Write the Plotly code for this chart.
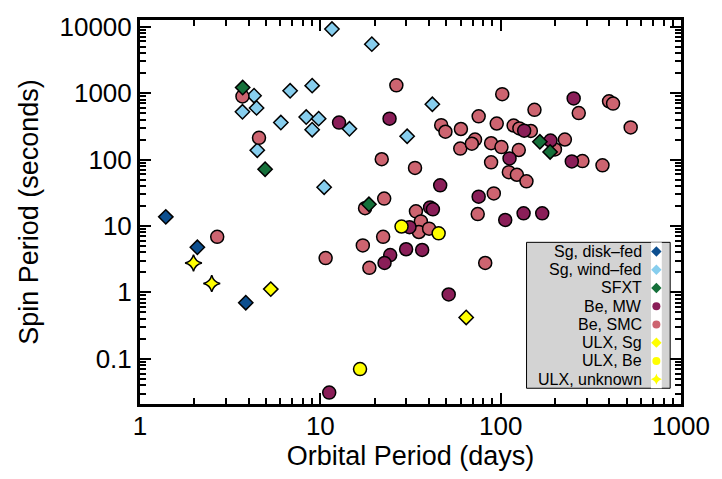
import plotly.graph_objects as go

# Orbital period (days) and spin period (seconds) for each class of X-ray pulsar
sg_disk_porb = [1.39, 2.08, 3.86]
sg_disk_pspin = [13.7, 4.77, 0.70]

sg_wind_porb = [11.6, 19.3, 4.29, 3.70, 4.43, 6.80, 9.01, 6.04, 8.35, 9.79, 9.01, 14.5, 4.47, 10.5, 30.3, 41.8]
sg_wind_pspin = [9190, 5450, 912, 523, 598, 1081, 1294, 360, 436, 412, 281, 290, 138, 38.3, 224, 679]

sfxt_porb = [3.71, 4.94, 18.6, 165, 188]
sfxt_pspin = [1210, 71.4, 21.2, 185, 130]

be_mw_porb = [11.2, 12.7, 24.2, 46.2, 75.5, 106, 112, 40.6, 42.1, 29.9, 36.7, 24.4, 22.7, 51.5,
              134, 170, 135, 189, 254, 248, 31.2]
be_mw_pspin = [0.031, 360, 412, 40.9, 27.6, 12.3, 104, 19.0, 17.8, 4.46, 4.35, 3.64, 2.77, 0.93,
               15.5, 15.5, 272, 193, 832, 93.7, 9.6]

be_smc_porb = [2.68, 10.7, 17.2, 18.7, 22.3, 17.7, 22.6, 21.9, 4.57, 3.70, 26.4, 33.5, 33.9, 36.1,
               35.2, 40.1, 74.6, 82.1, 91.6, 88.5, 59.7, 111, 123, 139, 102, 399, 420, 271, 526,
               154, 75.5, 95.1, 118, 127, 147, 227, 200, 284, 367, 46.8, 49.4, 60.2, 72.1, 69.2,
               88.5, 101, 126]
be_smc_pspin = [6.86, 3.28, 5.1, 2.34, 6.86, 18.5, 25.8, 101, 212, 891, 1309, 74.7, 16.6, 11.7,
                8.1, 9.1, 15.1, 2.77, 30.9, 90.6, 146, 64.5, 58.9, 46.9, 964, 752, 695, 500, 304,
                560, 447, 348, 325, 294, 269, 200, 142, 94.7, 81.8, 329, 262, 288, 200, 173,
                176, 154, 139]

ulx_sg_porb = [5.31, 64.4]
ulx_sg_pspin = [1.12, 0.42]

ulx_be_porb = [16.6, 28.2, 45.3]
ulx_be_pspin = [0.070, 9.8, 7.75]

ulx_unk_porb = [1.98, 2.50]
ulx_unk_pspin = [2.77, 1.36]

x_tickvals = [1, 10, 100, 1000]
x_ticktext = ["1", "10", "100", "1000"]
y_tickvals = [0.1, 1, 10, 100, 1000, 10000]
y_ticktext = ["0.1", "1", "10", "100", "1000", "10000"]

legend_labels = ["Sg, disk\u2013fed", "Sg, wind\u2013fed", "SFXT", "Be, MW", "Be, SMC",
                 "ULX, Sg", "ULX, Be", "ULX, unknown"]
legend_symbols = ["diamond", "diamond", "diamond", "circle", "circle",
                  "diamond", "circle", "star-diamond"]
legend_colors = ["#0d4f8f", "#87ceee", "#15703a", "#8a1e58", "#cd6470",
                 "#ffff00", "#ffff00", "#ffff00"]

FONT = "Liberation Sans, Arial, Helvetica, sans-serif"

series = [
    (sg_wind_porb, sg_wind_pspin, 1, 11),
    (be_smc_porb, be_smc_pspin, 4, 13),
    (be_mw_porb, be_mw_pspin, 3, 13),
    (sfxt_porb, sfxt_pspin, 2, 11),
    (sg_disk_porb, sg_disk_pspin, 0, 11),
    (ulx_sg_porb, ulx_sg_pspin, 5, 11),
    (ulx_be_porb, ulx_be_pspin, 6, 13),
    (ulx_unk_porb, ulx_unk_pspin, 7, 12),
]

fig = go.Figure()
for xs, ys, k, sz in series:
    fig.add_trace(go.Scatter(
        x=xs, y=ys, mode="markers", name=legend_labels[k], showlegend=False,
        marker=dict(symbol=legend_symbols[k], color=legend_colors[k], size=sz,
                    line=dict(color="black", width=1.5)),
    ))

# Legend box drawn by hand: labels on the left, symbols on the right
legend_rows = list(range(len(legend_labels)))
fig.add_trace(go.Scatter(
    x=[0] * len(legend_rows), y=legend_rows, mode="markers", showlegend=False,
    xaxis="x2", yaxis="y2", hoverinfo="skip",
    marker=dict(symbol=legend_symbols, color=legend_colors, size=8, line=dict(width=0)),
))
for row, label in zip(legend_rows, legend_labels):
    fig.add_annotation(text=label, xref="paper", yref="y2", x=0.932, y=row,
                       xanchor="right", yanchor="middle", showarrow=False,
                       font=dict(family=FONT, size=16, color="black"))

fig.add_shape(type="rect", xref="paper", yref="paper", x0=0.7145, x1=0.98, y0=0.041, y1=0.421,
              fillcolor="#d3d3d3", line=dict(color="black", width=1), layer="below")

axis_common = dict(
    type="log", showgrid=False, zeroline=False, showline=True, linecolor="black", linewidth=3,
    mirror="ticks", ticks="inside", ticklen=11, tickwidth=2, tickcolor="black",
    tickfont=dict(family=FONT, size=26, color="black"),
    minor=dict(ticks="inside", ticklen=6, tickwidth=2, tickcolor="black", dtick="D1", showgrid=False),
)

fig.update_layout(
    width=722, height=479,
    margin=dict(l=140, r=32, t=12, b=75),
    plot_bgcolor="white", paper_bgcolor="white",
    font=dict(family=FONT, color="black"),
    xaxis=dict(range=[0, 3], tickvals=x_tickvals, ticktext=x_ticktext, ticklabelstandoff=-3,
               title=dict(text="Orbital Period (days)", font=dict(family=FONT, size=27), standoff=6),
               **axis_common),
    yaxis=dict(range=[-1.68, 4.10], tickvals=y_tickvals, ticktext=y_ticktext,
               title=dict(text="Spin Period (seconds)", font=dict(family=FONT, size=27), standoff=14),
               **axis_common),
    xaxis2=dict(domain=[0.9445, 0.9645], range=[-1, 1], visible=False, anchor="y2"),
    yaxis2=dict(domain=[0.041, 0.421], range=[7.5, -0.5], visible=False, anchor="x2"),
)

fig.write_html("out.html")
